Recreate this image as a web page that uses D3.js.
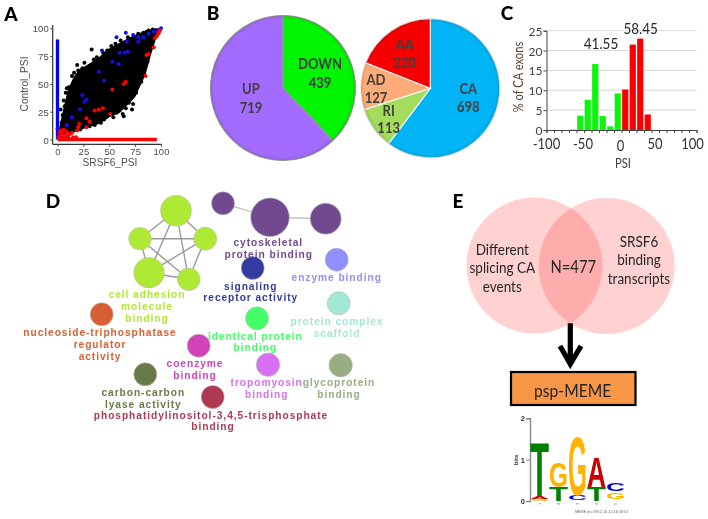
<!DOCTYPE html>
<html><head><meta charset="utf-8">
<script src="https://cdn.jsdelivr.net/npm/d3@7/dist/d3.min.js"></script>
<style>
html,body{margin:0;padding:0;background:#fff}
svg{display:block;filter:blur(.4px)}
text{dominant-baseline:central}
.cal{font-family:Lato,"Open Sans",sans-serif}
.hel{font-family:"Liberation Sans",Arial,sans-serif}
</style></head><body>
<svg id="c" width="708" height="519" viewBox="0 0 708 519"></svg>
<script>
// ---------- Panel A data ----------
const cloudX    = [1,5,10,15,20,30,40,50,60,70,75,80,85,90,95,100];
const cloudLow  = [3,5,6,6,8,11,14,20,24,33,38,48,58,75,90,98];
const cloudHigh = [8,25,45,55,62,68,74,82,87,92,94,96,97,99,100,100];
const blackX = [33,19,20,11,8,9,3,5,72,64,73,24,29,38,48,56,86,14,16,26,35,44,52,61,68,78,83,88,92,57,66,47,42,31,22,12,7,54,60,69,76,81,84,87,6,4,36,45,58,63];
const blackY = [81,67,62,47,42,46,27,22,27,21,32,64,64,74,80,86,97,57,60,69,72,78,84,89,92,95,96,98,99,24,28,20,15,12,9,7,30,20,26,33,42,52,63,70,35,15,13,18,25,23];
const blueX = [57,66,73,43,67,60,65,68,53,59,40,45,24,28,26,22,14,9,0,78,78,83,88,93,97,100];
const blueY = [92,96,94,80,88,78,78,79,70,68,61,53,40,36,34,27,20,13,10,88,92,92,95,97,98,100];
const redX = [85,64,66,53,51,44,40,36,28,31,28,21,20,19,9,14,86,88,93,94,97,99,98,96,2,4,6,8,10,12,15,18,3,5,7,11,2,3,5,1,8];
const redY = [57,50,52,45,23,28,27,26,19,16,11,14,11,8,7,6,76,77,83,91,95,98,96,93,3,6,9,5,3,5,2,2,1,2,2,1,6,8,5,2,2];
const blueRailY = [0,90];
const redRailX = [0,96];
const psiTicks = [0,25,50,75,100];
// ---------- Panel B data ----------
const regLabels = ["DOWN","UP"];
const regValues = [439,719];
const typeLabels = ["CA","RI","AD","AA"];
const typeValues = [698,113,127,220];
// ---------- Panel C data ----------
const binCentres = [-65,-55,-45,-35,-25,-15,-5,5,15,25,35];
const binValues  = [0.1,3.6,7.6,16.6,3.5,0.9,9.2,10.2,21.5,23,3.9];
const percentTicks = [0,5,10,15,20,25];
const deltaTicks = [-100,-50,0,50,100];
const deltaMinor = [-90,-80,-70,-60,-40,-30,-20,-10,10,20,30,40,60,70,80,90];
// ---------- Panel D data ----------
const termNames = ["a1","a2","a3","a4","a5","c1","c2","c3","sig","enz","cpx","idn","coe","tro","gly","pho","car","nuc"];
const termSizes = [240,128,234,128,132,132,372,240,132,132,132,132,132,137,137,132,132,132];
const cliqueEdges = [[0,1],[0,2],[0,3],[0,4],[1,2],[1,3],[1,4],[2,3],[2,4],[3,4],[5,6],[6,7]];
// ---------- Panel E data ----------
const vennLeft = ["Different","splicing CA","events"];
const vennRight = ["SRSF6","binding","transcripts"];
const vennShared = "N=477";
const logoPositions = [1,2,3,4,5];
const logoLetters = ["G","A","T", "T","G", "C","G", "T","A", "G","C"];
const logoColumn  = [1,1,1, 2,2, 3,3, 4,4, 5,5];
const logoBottom  = [0.01,0.06,0.12, 0,0.35, 0.03,0.15, 0,0.35, 0.05,0.24];
const logoTop     = [0.06,0.12,1.43, 0.35,0.95, 0.15,1.6, 0.35,1.08, 0.21,0.43];

const svg = d3.select("#c");
const BROWN="#404040";
function label(x,y,t,o={}){
  const s=svg.append("text").attr("x",x).attr("y",y).attr("text-anchor",o.anchor||"middle")
   .attr("class",o.cls||"cal").attr("font-size",o.size||14).attr("font-weight",o.weight||"normal")
   .attr("fill",o.fill||BROWN).attr("letter-spacing",o.ls||null).text(t);
  if(!o.cls && !o.wide){
    s.attr("textLength",s.node().getComputedTextLength()*0.87).attr("lengthAdjust","spacingAndGlyphs");
  }
  return s;
}
[["A",11,13],["B",213,12],["C",507,12],["D",53,200],["E",458,200]].forEach(d=>
  label(d[1],d[2],d[0],{size:19,weight:900,fill:"#000",wide:1}));

// ---------- A ----------
(function(){
 const x=d3.scaleLinear([0,100],[57.5,161]), y=d3.scaleLinear([0,100],[139.5,28.3]);
 const g=svg.append("g");
 g.append("path").datum(cloudX.map((v,i)=>i)).attr("fill","#000")
  .attr("d",d3.area().x(i=>x(cloudX[i])).y0(i=>y(cloudLow[i])).y1(i=>y(cloudHigh[i])));
 g.selectAll(".b").data(blackX).join("circle").attr("cx",d=>x(d)).attr("cy",(d,i)=>y(blackY[i])).attr("r",2).attr("fill","#000");
 g.append("line").attr("x1",x(0)).attr("x2",x(0)).attr("y1",y(blueRailY[0])).attr("y2",y(blueRailY[1])).attr("stroke","#0000ff").attr("stroke-width",3.3);
 g.selectAll(".bl").data(blueX).join("circle").attr("cx",d=>x(d)).attr("cy",(d,i)=>y(blueY[i])).attr("r",2).attr("fill","#1010f0");
 g.selectAll(".rd").data(redX).join("circle").attr("cx",d=>x(d)).attr("cy",(d,i)=>y(redY[i])).attr("r",2).attr("fill","#f00");
 g.append("line").attr("x1",x(redRailX[0])).attr("x2",x(redRailX[1])).attr("y1",y(0)).attr("y2",y(0)).attr("stroke","#f00").attr("stroke-width",3.6);
 const ax=g.append("g").attr("transform","translate(0,144.3)").call(d3.axisBottom(x).tickValues(psiTicks).tickSize(2.5).tickPadding(1.5));
 const ay=g.append("g").attr("transform","translate(52.7,0)").call(d3.axisLeft(y).tickValues(psiTicks).tickSize(2.5).tickPadding(1.5));
 [ax,ay].forEach(a=>{a.selectAll("text").attr("class","hel").attr("font-size",9.5).attr("fill","#4d4d4d").attr("dy",null);
   a.select(".domain").attr("stroke","#333").attr("stroke-width",1.2);a.selectAll("line").attr("stroke","#444")});
 ax.select(".domain").attr("d","M52.7,0H161.5");
 ay.select(".domain").attr("d","M0,144.3V25");
 ax.selectAll("text").attr("y",7.5);
 label(110,162.5,"SRSF6_PSI",{cls:"hel",size:10.2,fill:"#4d4d4d"});
 label(0,0,"Control_PSI",{cls:"hel",size:10.2,fill:"#4d4d4d"}).attr("transform","translate(24,84) rotate(-90)");
})();

// ---------- B ----------
const defs=svg.append("defs");
const rim=defs.append("radialGradient").attr("id","rim");
[[0,0],[.94,0],[.98,.08],[1,.24]].forEach(s=>rim.append("stop").attr("offset",s[0]).attr("stop-color","#222").attr("stop-opacity",s[1]));
function pie(cx,cy,r,vals,cols,stroke){
 const arcs=d3.pie().sort(null)(vals), arc=d3.arc().innerRadius(0).outerRadius(r);
 const g=svg.append("g").attr("transform",`translate(${cx},${cy})`);
 g.selectAll("path").data(arcs).join("path").attr("d",arc).attr("fill",(d,i)=>cols[i]).attr("stroke",stroke).attr("stroke-width",1.1);
 g.append("circle").attr("r",r).attr("fill","url(#rim)");
 g.append("circle").attr("r",r+.1).attr("fill","none").attr("stroke","#999").attr("stroke-opacity",.3).attr("stroke-width",.6);
}
pie(283,88,72.5,regValues,["#00f500","#a36cff"],"#9a9a9a");
pie(430.3,88.3,69.5,typeValues,["#00b4f5","#a4dc5c","#ffab78","#f80000"],"#fff");
const pieTextPos=[[320,63.3,81.7],[251,88,106.7],[468.3,88.3,106],[388.7,110,127.3],[376,79.3,96.7],[404.7,44,61.7]];
regLabels.concat(typeLabels).forEach((n,i)=>{
 const v=regValues.concat(typeValues)[i],p=pieTextPos[i];
 label(p[0],p[1],n,{size:15,weight:700}); label(p[0],p[2],v,{size:15,weight:700});
});

// ---------- C ----------
(function(){
 const x=d3.scaleLinear([-100,100],[546.5,696.5]), y=d3.scaleLinear([0,25],[130,30.7]);
 const g=svg.append("g");
 g.selectAll(".g").data(percentTicks.slice(1)).join("line").attr("x1",546.5).attr("x2",696.5).attr("y1",d=>y(d)).attr("y2",d=>y(d)).attr("stroke","#d9d9d9");
 g.selectAll("rect").data(binValues).join("rect").attr("width",6.2)
  .attr("x",(d,i)=>x(binCentres[i])-3.1).attr("y",d=>y(d)).attr("height",d=>130-y(d))
  .attr("fill",(d,i)=>binCentres[i]<0?"#0cf50c":"#f80000");
 const ay=g.append("g").attr("transform","translate(546.5,0)").call(d3.axisLeft(y).tickValues(percentTicks).tickSize(3).tickPadding(1));
 ay.selectAll("text").attr("class","cal").attr("font-size",12).attr("fill",BROWN).attr("dy",null);
 const ax=g.append("g").attr("transform","translate(0,130)").call(d3.axisBottom(x).tickValues(deltaTicks.concat(deltaMinor)).tickSize(3).tickFormat(d=>""));
 [ax,ay].forEach(a=>{a.select(".domain").attr("stroke","#444");a.selectAll("line").attr("stroke","#444")});
 const nudge=[0,-1,-1,-4,-4];
 deltaTicks.forEach((d,i)=>label(x(d)+nudge[i],d===0?145:142.8,d,{size:15,fill:"#333"}));
 label(623,162.5,"PSI",{size:13});
 label(0,0,"% of CA exons",{size:12.8,fill:"#5a4030"}).attr("transform","translate(518,77) rotate(-90)");
 label(601,43,"41.55",{size:15.5,fill:"#262626"});
 label(640.7,28,"58.45",{size:15.5,fill:"#262626"});
})();

// ---------- D ----------
(function(){
 const nodeX=[176,140,149,188.7,205.3,223,270,325.7,252.7,336.7,338.7,257,198.7,268,340.7,212.7,145.3,101.7];
 const nodeY=[210.7,238.7,272.7,279.3,238.7,203.3,217.3,218.7,268,259.7,303.3,318.3,345.7,364.7,365.3,397,374.3,314.3];
 const cols=["#aeea34","#aeea34","#aeea34","#aeea34","#aeea34","#71498f","#71498f","#71498f","#333ba0","#8f8fff","#a3e8d3","#44ff66","#d044b8","#d670f0","#98ae82","#ae3a52","#697a48","#d66033"];
 const rad=d3.scaleSqrt([0,372],[0,19.3]);
 const g=svg.append("g");
 g.selectAll("line").data(cliqueEdges).join("line").attr("x1",d=>nodeX[d[0]]).attr("y1",d=>nodeY[d[0]]).attr("x2",d=>nodeX[d[1]]).attr("y2",d=>nodeY[d[1]])
  .attr("stroke",(d,i)=>i<10?"#9a9a9a":"#c4c4c4").attr("stroke-width",1.4);
 g.selectAll("circle").data(termSizes).join("circle").attr("cx",(d,i)=>nodeX[i]).attr("cy",(d,i)=>nodeY[i]).attr("r",d=>rad(d))
  .attr("fill",(d,i)=>cols[i]).attr("stroke","#bbb").attr("stroke-width",.6);
 const terms=[
  ["cell adhesion",147,294.3,0],["molecule",147,306.3,0],["binding",147,318.3,0],
  ["nucleoside-triphosphatase",100,332.3,17],["regulator",100,344,17],["activity",100,356.5,17],
  ["carbon-carbon",143.3,392.3,16],["lyase activity",143.3,404,16],
  ["phosphatidylinositol-3,4,5-trisphosphate",211,415,15],["binding",213,426.7,15],
  ["coenzyme",195,363.7,12],["binding",195,375.6,12],
  ["cytoskeletal",268.3,242.7,6],["protein binding",268.7,254.7,6],
  ["signaling",250.7,286,8],["receptor activity",250.8,297.7,8],
  ["enzyme binding",336.7,277.7,9],
  ["protein complex",337,321.3,10],["scaffold",337,333,10],
  ["identical protein",255.3,336,11],["binding",255.3,347.7,11],
  ["tropomyosin",266.7,382.7,13],["binding",266.7,394.3,13],
  ["glycoprotein",339,382.7,14],["binding",339,394.3,14]];
 terms.forEach(t=>label(t[1],t[2],t[0],{cls:"hel",size:10.2,weight:700,fill:cols[t[3]],ls:"0.95px"}));
})();

// ---------- E ----------
svg.append("circle").attr("cx",534.5).attr("cy",265.5).attr("r",68).attr("fill","#f00").attr("fill-opacity",.18);
svg.append("circle").attr("cx",606.7).attr("cy",266).attr("r",68).attr("fill","#f00").attr("fill-opacity",.18);
vennLeft.forEach((t,i)=>label(502.3,[249,267.3,286][i],t,{size:15.5,fill:"#262626"}));
vennRight.forEach((t,i)=>label(639,[240.7,259,277.7][i],t,{size:15.5,fill:"#262626"}));
label(573.3,266,vennShared,{size:17,fill:"#262626"});
svg.append("path").attr("d","M570.3,323.3V364M560,346L570.3,364L581,346").attr("fill","none").attr("stroke","#000").attr("stroke-width",5.2);
svg.append("rect").attr("x",511).attr("y",372).attr("width",124.5).attr("height",33).attr("fill","#f79646").attr("stroke","#000").attr("stroke-width",2.2);
label(572.7,390,"psp-MEME",{size:18,fill:"#262626"});

(function(){
 const y=d3.scaleLinear([0,2],[501,418.3]);
 const x=d3.scaleBand(logoPositions,[530,625]).paddingInner(0);
 const ay=svg.append("g").attr("transform","translate(530,0)").call(d3.axisLeft(y).tickValues([0,1,2]).tickFormat(d3.format("d")).tickSize(4).tickPadding(1));
 ay.selectAll("text").attr("class","hel").attr("font-size",7.5).attr("font-weight",700).attr("fill","#333").attr("dy",null);
 ay.select(".domain").attr("stroke","#888").attr("stroke-width",1.4);ay.selectAll("line").attr("stroke","#888");
 label(0,0,"bits",{cls:"hel",size:6,weight:700,fill:"#333"}).attr("transform","translate(515.7,460) rotate(-90)");
 const col={T:"#008000",G:"#ffb300",C:"#0000cc",A:"#cc0000"};
 logoLetters.forEach((l,i)=>{
  const t=svg.append("text").attr("class","hel").attr("font-size",20).attr("font-weight",700).attr("fill",col[l])
    .attr("text-anchor","middle").style("dominant-baseline","alphabetic").text(l);
  const cap=20*0.716, w=t.node().getComputedTextLength();
  const tx=x(logoColumn[i]), bw=x.bandwidth(), h=y(logoBottom[i])-y(logoTop[i]);
  t.attr("transform",`translate(${tx+bw/2},${y(logoBottom[i])}) scale(${bw/w},${h/cap})`);
 });
 logoPositions.forEach(p=>label(0,0,p,{cls:"hel",size:4,fill:"#777"}).attr("transform",`translate(${x(p)+x.bandwidth()/2},504) rotate(-90)`));
 label(601.5,511.7,"MEME (no SSC) 16.12.16 09:53",{cls:"hel",size:3.7,fill:"#666"});
})();
</script></body></html>
